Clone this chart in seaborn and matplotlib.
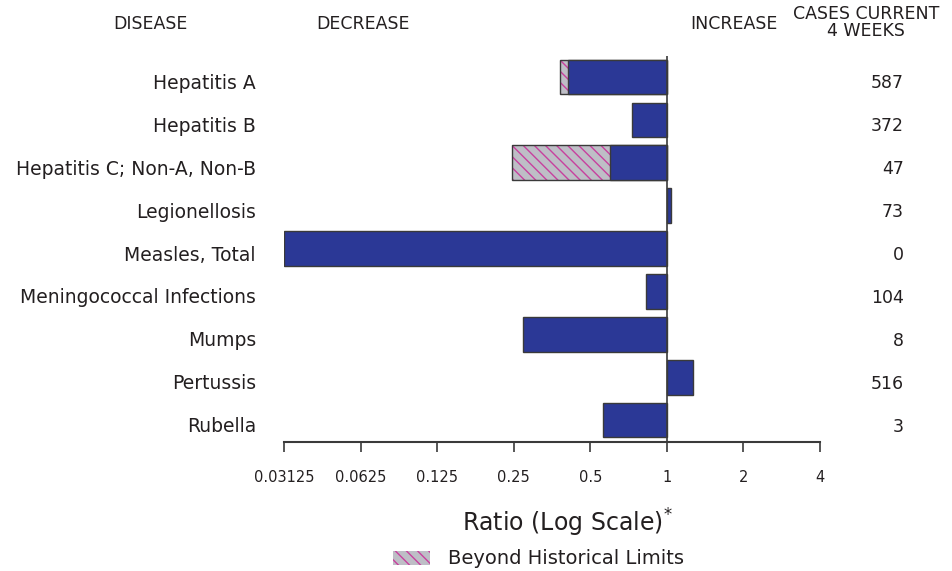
import numpy as np
import pandas as pd
import matplotlib
matplotlib.use("Agg")
import matplotlib.pyplot as plt
import matplotlib.transforms as mtransforms
from matplotlib.patches import Patch
import seaborn as sns

# Notifiable disease ratios (current 4 weeks vs historical), log-2 scale
diseases = ["Hepatitis A", "Hepatitis B", "Hepatitis C; Non-A, Non-B",
            "Legionellosis", "Measles, Total", "Meningococcal Infections",
            "Mumps", "Pertussis", "Rubella"]
ratios = [0.407, 0.730, 0.597, 1.037, 0.03125, 0.825, 0.271, 1.265, 0.559]
beyond_limits = [0.381, np.nan, 0.247, np.nan, np.nan, np.nan, np.nan, np.nan, np.nan]
cases = [587, 372, 47, 73, 0, 104, 8, 516, 3]
tick_values = [0.03125, 0.0625, 0.125, 0.25, 0.5, 1, 2, 4]
tick_labels = ["0.03125", "0.0625", "0.125", "0.25", "0.5", "1", "2", "4"]

BLUE = "#2B3896"
HATCH_FACE = "#BEBEC6"
HATCH_LINE = "#C8409E"
EDGE = "#3A3A3A"
TEXT = "#231F20"

sns.set_theme(style="white")
plt.rcParams["font.family"] = ["DejaVu Sans"]
plt.rcParams["hatch.linewidth"] = 1.0

df = pd.DataFrame({
    "disease": diseases,
    "log_ratio": np.log2(ratios),
    "log_limit": np.log2(beyond_limits),
})

fig = plt.figure(figsize=(9.52, 5.71), dpi=100)
W, H = 952, 571
ax = fig.add_axes([284 / W, 1 - 442 / H, (820 - 284) / W, (442 - 56) / H])

# Portion beyond historical limits (drawn behind the ratio bars)
n_before = len(ax.patches)
sns.barplot(data=df.dropna(subset=["log_limit"]), x="log_limit", y="disease",
            order=diseases, orient="h", color=HATCH_FACE, width=0.81,
            saturation=1, ax=ax)
for p in ax.patches[n_before:]:
    p.set_facecolor(HATCH_FACE)
    p.set_hatch("\\\\\\")
    p.set_edgecolor(HATCH_LINE)
    p.set_linewidth(0)
    outline = plt.Rectangle(p.get_xy(), p.get_width(), p.get_height(),
                            fill=False, edgecolor=EDGE, linewidth=1.0, zorder=p.get_zorder())
    ax.add_patch(outline)

n_before = len(ax.patches)
sns.barplot(data=df, x="log_ratio", y="disease", order=diseases, orient="h",
            color=BLUE, width=0.81, saturation=1, edgecolor=EDGE, linewidth=1.0, ax=ax)
for p in ax.patches[n_before:]:
    p.set_zorder(3)

ax.axvline(0, color=EDGE, linewidth=1.2, zorder=4)

ax.set_xlim(-5, 2)
ax.set_ylim(8.51, -0.49)
ax.set_xticks(np.log2(tick_values))
ax.set_xticklabels(tick_labels, fontsize=10.5, color=TEXT)
ax.set_yticks([])
ax.set_xlabel("")
ax.set_ylabel("")
for side in ["left", "right", "top"]:
    ax.spines[side].set_visible(False)
ax.spines["bottom"].set_color(EDGE)
ax.spines["bottom"].set_linewidth(1.5)
ax.tick_params(axis="x", direction="out", length=7, width=1.2, color=EDGE, pad=13, bottom=True)

# Row labels and case counts
trans = mtransforms.blended_transform_factory(fig.transFigure, ax.transData)
for i, (name, c) in enumerate(zip(diseases, cases)):
    ax.text(256 / W, i + 0.15, name, transform=trans, ha="right", va="center",
            fontsize=13.5, color=TEXT)
    ax.text(904 / W, i + 0.15, str(c), transform=trans, ha="right", va="center",
            fontsize=12.5, color=TEXT)

# Column headers
hy = 1 - 24 / H
fig.text(150 / W, hy, "DISEASE", ha="center", va="center", fontsize=12.5, color=TEXT)
fig.text(363 / W, hy, "DECREASE", ha="center", va="center", fontsize=12.5, color=TEXT)
fig.text(734 / W, hy, "INCREASE", ha="center", va="center", fontsize=12.5, color=TEXT)
fig.text(866 / W, 1 - 14 / H, "CASES CURRENT", ha="center", va="center", fontsize=12.5, color=TEXT)
fig.text(866 / W, 1 - 31 / H, "4 WEEKS", ha="center", va="center", fontsize=12.5, color=TEXT)

# Axis title
fig.text(567 / W, 1 - 523 / H, r"Ratio (Log Scale)$^{*}$", ha="center", va="center",
         fontsize=17, color=TEXT)

# Legend
leg_patch = Patch(facecolor=HATCH_FACE, edgecolor=HATCH_LINE, hatch="\\\\\\", linewidth=0)
leg = fig.legend(handles=[leg_patch], labels=["Beyond Historical Limits"],
                 loc="center left", bbox_to_anchor=(383 / W, 1 - 559 / H),
                 frameon=False, fontsize=14, handlelength=1.9, handleheight=0.75,
                 handletextpad=0.95, borderpad=0, labelcolor=TEXT)

fig.savefig("out.png", dpi=100)
